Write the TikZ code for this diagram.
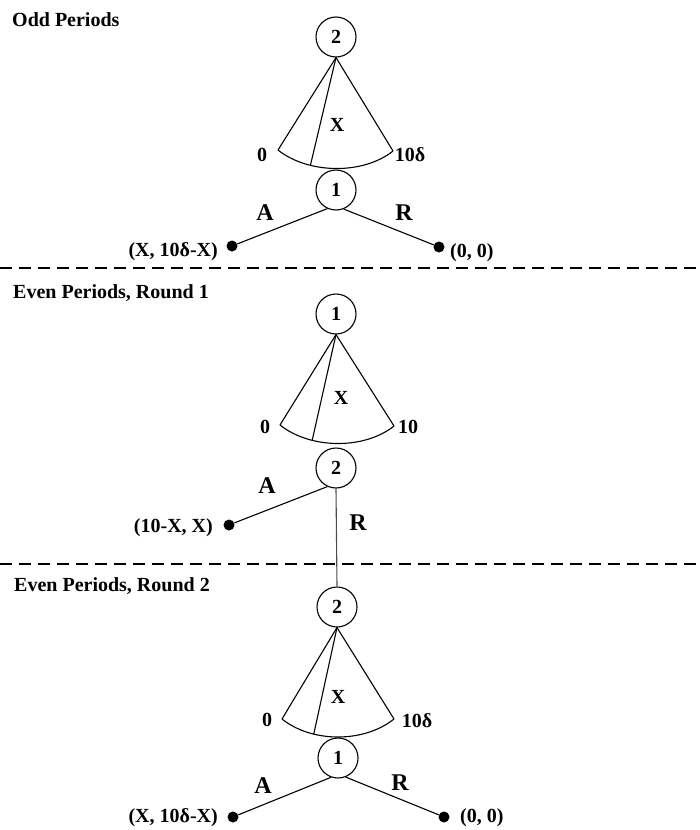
\documentclass[tikz,border=0pt]{standalone}
\usepackage{fontspec}
\setmainfont{Liberation Serif}
\begin{document}
\begin{tikzpicture}[x=1pt,y=-1pt,
 every node/.style={font=\bfseries\fontsize{20}{22}\selectfont},
 player/.style={draw, circle, minimum size=40pt, inner sep=0pt, line width=1.1pt},
 term/.style={circle, fill=black, minimum size=11pt, inner sep=0pt},
 edge/.style={line width=1.1pt},
 big/.style={font=\bfseries\fontsize{24}{26}\selectfont},
 sep/.style={dash pattern=on 12pt off 7pt, line width=1.1pt},
 title/.style={anchor=base west, inner sep=0pt},
 lbl/.style={inner sep=0pt}
]
\useasboundingbox (0,0) rectangle (699,830);

% ---------- Odd periods ----------
\node[title] (t1) at (12,26) {Odd Periods};
\node[player] (p1a) at (336,37) {2};
\node[player] (p1b) at (336,190) {1};
\coordinate (l1) at (278,150);
\coordinate (r1) at (393,151);
\draw[edge] (l1) -- (p1a.south) -- (r1);
\draw[edge] (l1) .. controls (308,174) and (363,175) .. coordinate[pos=0.3] (m1) (r1);
\draw[edge] (p1a.south) -- (m1);
\node[lbl] (x1) at (337,125) {X};
\node[lbl] (z1) at (262,155) {0};
\node[lbl] (w1) at (410,155) {10δ};
\node[term] (d1l) at (232,246) {};
\node[term] (d1r) at (439,247) {};
\draw[edge] (p1b.245) -- (d1l);
\draw[edge] (p1b.292) -- (d1r);
\node[big] (a1) at (265,213) {A};
\node[big] (rr1) at (404,213) {R};
\node[lbl, anchor=base east] (o1l) at (218,256) {(X, 10δ-X)};
\node[lbl, anchor=base west] (o1r) at (450,257) {(0, 0)};
\coordinate (s1a) at (0,268);
\coordinate (s1b) at (699,268);
\draw[sep] (s1a) -- (s1b);

% ---------- Even periods, round 1 ----------
\node[title] (t2) at (13,298) {Even Periods, Round 1};
\node[player] (p2a) at (336,314) {1};
\node[player] (p2b) at (336,468) {2};
\coordinate (l2) at (280,425);
\coordinate (r2) at (394,426);
\draw[edge] (l2) -- (p2a.south) -- (r2);
\draw[edge] (l2) .. controls (310,449) and (364,450) .. coordinate[pos=0.3] (m2) (r2);
\draw[edge] (p2a.south) -- (m2);
\node[lbl] (x2) at (341,398) {X};
\node[lbl] (z2) at (265,427) {0};
\node[lbl] (w2) at (408,427) {10};
\node[term] (d2l) at (229,525) {};
\draw[edge] (p2b.245) -- (d2l);
\node[big] (a2) at (267,486) {A};
\node[big] (rr2) at (358,523) {R};
\node[lbl, anchor=base east] (o2l) at (213,532) {(10-X, X)};
\coordinate (s2a) at (0,564);
\coordinate (s2b) at (699,564);
\draw[sep] (s2a) -- (s2b);

% ---------- Even periods, round 2 ----------
\node[title] (t3) at (14,591) {Even Periods, Round 2};
\node[player] (p3a) at (337,607) {2};
\node[player] (p3b) at (338,758) {1};
\draw[edge, black!70] (p2b.south) -- (p3a.north);
\coordinate (l3) at (282,719);
\coordinate (r3) at (394,719);
\draw[edge] (l3) -- (p3a.south) -- (r3);
\draw[edge] (l3) .. controls (312,743) and (364,743) .. coordinate[pos=0.3] (m3) (r3);
\draw[edge] (p3a.south) -- (m3);
\node[lbl] (x3) at (338,697) {X};
\node[lbl] (z3) at (267,720) {0};
\node[lbl] (w3) at (417,721) {10δ};
\node[term] (d3l) at (233,817) {};
\node[term] (d3r) at (444,817) {};
\draw[edge] (p3b.250) -- (d3l);
\draw[edge] (p3b.292) -- (d3r);
\node[big] (a3) at (263,786) {A};
\node[big] (rr3) at (400,783) {R};
\node[lbl, anchor=base east] (o3l) at (218,822) {(X, 10δ-X)};
\node[lbl, anchor=base west] (o3r) at (460,822) {(0, 0)};
\end{tikzpicture}
\end{document}
